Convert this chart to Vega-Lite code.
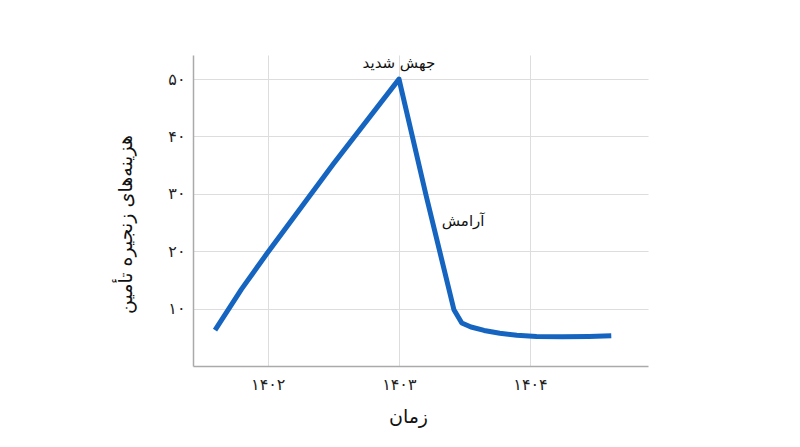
{
  "$schema": "https://vega.github.io/schema/vega-lite/v6.json",
  "width": 455,
  "height": 311,
  "autosize": {"type": "none"},
  "padding": {"left": 193, "top": 55, "right": 152, "bottom": 81},
  "background": "white",
  "config": {
    "font": "DejaVu Sans",
    "view": {"stroke": null},
    "axis": {
      "grid": true,
      "gridColor": "#dddddd",
      "gridWidth": 1,
      "domainColor": "#aaaaaa",
      "domainWidth": 1.5,
      "ticks": false,
      "labelFont": "DejaVu Sans",
      "labelFontSize": 16,
      "labelColor": "#222222",
      "titleFont": "DejaVu Sans",
      "titleFontSize": 19,
      "titleFontWeight": "normal",
      "titleColor": "#111111"
    }
  },
  "datasets": {
    "cost": [
      {"year": 1401.598, "cost": 6.27},
      {"year": 1401.8, "cost": 13.4},
      {"year": 1401.994, "cost": 19.6},
      {"year": 1402.5, "cost": 35.2},
      {"year": 1403.001, "cost": 50.0},
      {"year": 1403.21, "cost": 29.5},
      {"year": 1403.42, "cost": 9.8},
      {"year": 1403.48, "cost": 7.5},
      {"year": 1403.55, "cost": 6.8},
      {"year": 1403.65, "cost": 6.2},
      {"year": 1403.77, "cost": 5.7},
      {"year": 1403.9, "cost": 5.35},
      {"year": 1404.05, "cost": 5.15},
      {"year": 1404.25, "cost": 5.08},
      {"year": 1404.45, "cost": 5.15},
      {"year": 1404.62, "cost": 5.28}
    ],
    "notes": [
      {"year": 1403.0, "cost": 52.8, "label": "جهش شدید"},
      {"year": 1403.49, "cost": 25.3, "label": "آرامش"}
    ]
  },
  "layer": [
    {
      "data": {"name": "cost"},
      "mark": {"type": "line", "color": "#1565c0", "strokeWidth": 5, "strokeJoin": "round"},
      "encoding": {
        "x": {
          "field": "year",
          "type": "quantitative",
          "scale": {"domain": [1401.43, 1404.9], "nice": false, "zero": false},
          "axis": {
            "values": [1402, 1403, 1404],
            "format": "d",
            "labelPadding": 10,
            "labelExpr": "replace(replace(replace(replace(replace(replace(datum.label, regexp('0','g'), '۰'), regexp('1','g'), '۱'), regexp('2','g'), '۲'), regexp('3','g'), '۳'), regexp('4','g'), '۴'), regexp('5','g'), '۵')",
            "title": "زمان",
            "titleX": 215,
            "titleY": 50,
            "titleAlign": "center",
            "titleBaseline": "middle"
          }
        },
        "y": {
          "field": "cost",
          "type": "quantitative",
          "scale": {"domain": [0, 54.2], "nice": false},
          "axis": {
            "values": [10, 20, 30, 40, 50],
            "labelPadding": 8,
            "labelExpr": "replace(replace(replace(replace(replace(replace(datum.label, regexp('0','g'), '۰'), regexp('1','g'), '۱'), regexp('2','g'), '۲'), regexp('3','g'), '۳'), regexp('4','g'), '۴'), regexp('5','g'), '۵')",
            "title": "هزینه‌های زنجیره تأمین",
            "titleAngle": -90,
            "titleX": -68,
            "titleY": 169,
            "titleAlign": "center",
            "titleBaseline": "middle"
          }
        }
      }
    },
    {
      "data": {"name": "notes"},
      "mark": {"type": "text", "fontSize": 15, "color": "#111111", "align": "center", "baseline": "middle"},
      "encoding": {
        "x": {"field": "year", "type": "quantitative"},
        "y": {"field": "cost", "type": "quantitative"},
        "text": {"field": "label"}
      }
    }
  ]
}
